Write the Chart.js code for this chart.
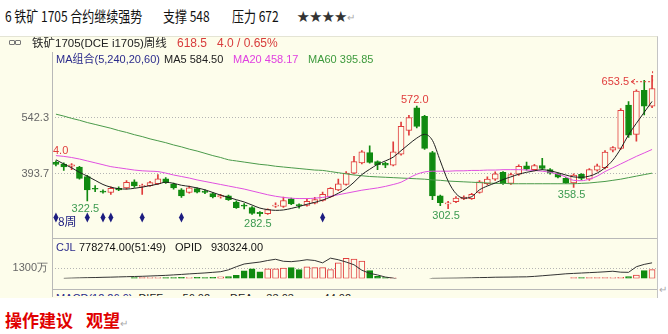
<!DOCTYPE html>
<html>
<head>
<meta charset="utf-8">
<script src="https://cdn.jsdelivr.net/npm/chart.js@4.4.0/dist/chart.umd.min.js"></script>
<style>
body{margin:0;width:668px;height:334px;position:relative;background:#fff;overflow:hidden;font-family:"Liberation Sans","Noto Sans CJK SC",sans-serif}
.abs{position:absolute;white-space:nowrap}
.t1{font-family:"Noto Sans CJK SC";font-size:15px;line-height:20px;top:6px;color:#111;transform:scaleX(0.8);transform-origin:0 0}
.r1{top:36px;line-height:14px;font-size:11.5px}
.r2{top:52px;line-height:14px;font-size:11px}
.rv{top:240px;line-height:14px;font-size:11px;color:#111}
.ret{color:#aaa;font-size:10px}
</style>
</head>
<body>
<!--标题-->
<div class="abs t1" style="left:5px">6 铁矿 1705 合约继续强势</div>
<div class="abs t1" style="left:163px">支撑 548</div>
<div class="abs t1" style="left:232px">压力 672</div>
<div class="abs" style="left:297px;top:7px;font-family:'Noto Sans CJK SC';font-size:12.5px;line-height:18px;color:#333">★★★★<span class="ret">↵</span></div>

<!--图表面板-->
<div class="abs" style="left:0;top:36px;width:657px;height:261px;background:#fdfdeb;border-top:1px solid #e4e4d4;border-right:1px solid #c4c4c4"></div>
<div class="abs" style="left:52px;top:52px;width:1px;height:245px;background:#b8b8b8"></div>
<div class="abs" style="left:52px;top:238px;width:605px;height:1px;background:#b8b8b8"></div>
<div class="abs" style="left:52px;top:289px;width:605px;height:1px;background:#b8b8b8"></div>

<div class="abs" style="left:0;top:52px;width:656px;height:186px"><canvas id="kChart" width="656" height="186"></canvas></div>
<div class="abs" style="left:0;top:239px;width:656px;height:50px"><canvas id="volChart" width="656" height="50"></canvas></div>

<!--面板文字-->
<div class="abs r1" style="left:9px;top:40px;width:4px;height:3px;border:1px solid #777;border-radius:1px"></div>
<div class="abs r1" style="left:15px;top:40px;width:4px;height:3px;border:1px solid #777;border-radius:1px"></div>
<div class="abs r1" style="left:32px;color:#222">铁矿1705(DCE i1705)周线</div>
<div class="abs r1" style="left:177px;color:#d83c3c;font-size:12px">618.5</div>
<div class="abs r1" style="left:217px;color:#d83c3c;font-size:12px">4.0 / 0.65%</div>
<div class="abs r2" style="left:56px;color:#2b2b8c">MA组合(5,240,20,60)</div>
<div class="abs r2" style="left:164px;color:#222">MA5 584.50</div>
<div class="abs r2" style="left:233px;color:#e040e0">MA20 458.17</div>
<div class="abs r2" style="left:308px;color:#3d9a3d">MA60 395.85</div>
<div class="abs rv" style="left:56px;color:#2b2b8c">CJL</div>
<div class="abs rv" style="left:79px">778274.00(51:49)</div>
<div class="abs rv" style="left:175px">OPID</div>
<div class="abs rv" style="left:211px">930324.00</div>
<div class="abs" style="left:0;top:291px;width:657px;height:5px;overflow:hidden">
  <div class="abs" style="left:56px;top:0;font-size:11px;line-height:14px;color:#2b2b8c">MACD(12,26,9)<span style="color:#222;margin-left:6px">DIFF</span><span style="color:#222;margin-left:16px">-56.02</span><span style="color:#222;margin-left:20px">DEA</span><span style="color:#222;margin-left:10px">-33.03</span><span style="color:#222;margin-left:26px">-44.02</span></div>
</div>
<div class="abs ret" style="left:659px;top:284px">↵</div>

<!--操作建议-->
<div class="abs" style="left:5px;top:309px;font-family:'Noto Sans CJK SC';font-weight:bold;font-size:17px;line-height:22px;color:#e00000">操作建议</div>
<div class="abs" style="left:86px;top:309px;font-family:'Noto Sans CJK SC';font-weight:bold;font-size:17px;line-height:22px;color:#e00000">观望<span class="ret" style="font-weight:normal">↵</span></div>

<script>
//---------- 数据（周线，从图上读取）----------
var openPrices = [424,420,414,412,387,356,349,345,356,357,
    373,361,363,368,381,367,352,345,355,349,
    342,333,336,320,312,305,293,289,309,308,
    328,313,311,317,324,334,352,366,396,423,
    450,426,422,417,446,508,568,545,450,336,
    315,321,328,329,345,368,380,398,369,393,
    415,405,416,405,394,382,370,393,380,404,
    410,456,461,575,498,614,572];
var highPrices = [428,423,421,414,390,363,352,360,360,376,
    378,367,374,392,384,370,355,362,357,352,
    345,340,338,323,316,308,295,302,318,333,
    330,315,328,332,346,358,380,400,440,455,
    468,428,424,478,530,548,572,548,453,338,
    322,334,336,343,376,386,399,400,396,418,
    425,419,435,408,396,384,394,395,408,420,
    455,466,566,584,615,640,653.5];
var lowPrices = [415,403,405,380,322.5,347,343,340,350,354,
    358,340,361,366,369,354,332,343,344,342,
    331,330,324,303,302,287,282.5,287,306,306,
    313,304,309,315,322,332,350,364,394,420,
    422,405,410,415,443,496,515,458,326,310,
    302.5,318,326,327,343,365,377,366,366,390,
    404,402,405,393,383,369,358.5,378,377,401,
    407,452,458,490,480,549,568];
var closePrices = [419,412,418,382,352,354,346,356,352,372,
    362,364,371,381,371,357,336,357,346,345,
    333,337,326,305,309,290,289,300,312,324,
    315,310,322,326,340,356,368,396,426,452,
    424,418,417,452,519,542,519,461,336,318,
    318,330,333,340,373,380,394,368,392,414,
    406,416,408,396,385,371,391,382,405,415,
    451,463,561,496,612,572,618.5];

var ma5 = [431,420,410,398,388,377,366,359,355,354,
    356,359,363,367,372,369,364,361,357,352,
    345,338,332,326,320,312,304,300,298,299,
    303,308,314,319,325,333,343,355,372,392,
    406,419,428,438,455,472,488,498,482,428,
    375,342,330,334,352,362,370,379,386,393,
    398,402,405,402,397,391,386,385,388,396,
    410,430,460,497,527,556,584.5];
var ma20 = [442,440,437,433,428,423,418,413,410,407,
    404,402,401,400,396,391,387,383,378,374,
    370,366,362,358,354,349,344,339,335,332,
    330,329,329,330,332,335,339,343,347,351,
    354,357,361,366,372,383,393,399,401,401,
    401,402,402,403,403,404,404,405,405,405,
    404,403,401,398,393,386,377,376,380,388,
    400,410,420,430,440,449,458.17];
var ma60 = [551,546,540,535,529,524,519,514,508,503,
    497,492,486,481,476,470,465,459,454,448,
    442,437,431,428,425,422,419,417,414,412,
    410,408,406,404,403,400,397,394,391,389,
    387,386,385,384,383,382,381,380,378,377,
    375,374,373,372,371,370,369,369,368,368,
    368,368,368,368,368,368,368,369,370,372,
    374,377,380,384,388,392,395.85];

// 成交量和持仓（万），看不到的部分为 null 或在面板下方
var volume = [null,null,null,null,null,null,null,null,null,null,
    110,110,120,120,110,120,130,120,130,120,
    140,200,220,380,980,1230,860,1230,1230,1330,
    1375,1130,1480,1375,1375,1130,2000,2590,2480,2240,
    1005,265,120,70,null,null,null,null,null,null,
    null,null,null,null,null,null,null,null,null,null,
    null,null,null,null,null,null,110,110,110,110,
    110,120,130,220,440,1005,1130];
var opid = [null,0,30,60,90,110,140,160,190,220,
    245,270,310,350,390,450,510,580,640,700,
    780,860,1100,1500,1850,1980,2100,2300,2460,2200,
    2150,2250,2400,2300,2000,2600,2400,2100,1750,1050,
    650,440,170,30,-300,-500,-500,-300,0,10,
    20,30,50,70,100,120,150,160,170,190,
    200,260,340,420,500,590,640,690,740,790,
    850,920,800,780,1500,1800,2000];

var priceTicks = [393.7, 542.3];
var volTicks = [1300];
var signalWeeks = [0, 4, 6, 7, 11, 16, 34];
var weeks = closePrices.map(function (v, i) { return 'W' + (i + 1); });

var RED = '#e03c3c';
var GREEN = '#108a10';
var CREAM = '#fdfdeb';

function isUp(i) { return closePrices[i] >= openPrices[i]; }
var lineColors = weeks.map(function (w, i) { return isUp(i) ? RED : GREEN; });
var fillColors = weeks.map(function (w, i) { return isUp(i) ? CREAM : GREEN; });

//---------- 标注（高低点、信号）----------
var markPlugin = {
    id: 'marks',
    afterDatasetsDraw: function (chart) {
        var ctx = chart.ctx, xs = chart.scales.x, ys = chart.scales.y, area = chart.chartArea;
        ctx.save();
        ctx.font = '11px "Liberation Sans"';
        ctx.textAlign = 'center';
        // 低点
        [[4, 322.5], [26, 282.5], [50, 302.5], [66, 358.5]].forEach(function (m) {
            ctx.fillStyle = '#3c9a50';
            ctx.textBaseline = 'top';
            ctx.fillText(m[1].toFixed(1), xs.getPixelForValue(m[0]) - 2, ys.getPixelForValue(m[1]) + 2);
        });
        // 高点
        ctx.fillStyle = RED;
        ctx.textBaseline = 'bottom';
        ctx.fillText('572.0', xs.getPixelForValue(46) - 2, ys.getPixelForValue(572) - 1);
        // 最高点 653.5
        var hx = xs.getPixelForValue(76), hy = ys.getPixelForValue(653.5);
        ctx.textAlign = 'right';
        ctx.textBaseline = 'middle';
        ctx.fillText('653.5', hx - 23, hy + 7);
        ctx.strokeStyle = RED;
        ctx.lineWidth = 1;
        ctx.setLineDash([2, 2]);
        ctx.beginPath();
        ctx.moveTo(hx - 20, hy + 6.5);
        ctx.lineTo(hx + 0.5, hy + 6.5);
        ctx.moveTo(hx + 0.5, hy - 4);
        ctx.lineTo(hx + 0.5, hy + 6.5);
        ctx.stroke();
        ctx.setLineDash([]);
        ctx.beginPath();
        ctx.moveTo(hx - 17, hy + 4);
        ctx.lineTo(hx - 21, hy + 6.5);
        ctx.lineTo(hx - 17, hy + 9);
        ctx.stroke();
        // 左上 4.0
        ctx.textAlign = 'left';
        ctx.textBaseline = 'bottom';
        ctx.fillText('4.0', area.left + 1, ys.getPixelForValue(ma5[0]) - 3);
        // 信号菱形
        ctx.fillStyle = '#1c1c80';
        signalWeeks.forEach(function (i) {
            var x = xs.getPixelForValue(i), y = area.bottom - 11;
            ctx.beginPath();
            ctx.moveTo(x, y - 5);
            ctx.lineTo(x + 2.5, y);
            ctx.lineTo(x, y + 5);
            ctx.lineTo(x - 2.5, y);
            ctx.closePath();
            ctx.fill();
        });
        ctx.font = '12px "Noto Sans CJK SC"';
        ctx.textBaseline = 'middle';
        ctx.fillText('8周', xs.getPixelForValue(0) + 2, area.bottom - 7);
        ctx.restore();
    }
};

function fixedTicks(values) {
    return function (scale) {
        scale.ticks = values.map(function (v) { return { value: v }; });
    };
}

function lineSet(data, color) {
    return {
        type: 'line', data: data, borderColor: color, borderWidth: 1,
        pointRadius: 0, cubicInterpolationMode: 'monotone', order: 0
    };
}

//---------- K线图 ----------
function BuildKChart() {
    var ctx = document.getElementById('kChart').getContext('2d');
    return new Chart(ctx, {
        type: 'bar',
        data: {
            labels: weeks,
            datasets: [
                lineSet(ma5, '#202020'),
                lineSet(ma20, '#e050e0'),
                lineSet(ma60, '#4a9a4a'),
                {   // 实体
                    data: openPrices.map(function (o, i) { return [o, closePrices[i]]; }),
                    backgroundColor: fillColors, borderColor: lineColors,
                    borderWidth: 1, borderSkipped: false,
                    barThickness: 6, grouped: false, order: 1
                },
                {   // 影线
                    data: lowPrices.map(function (l, i) { return [l, highPrices[i]]; }),
                    backgroundColor: lineColors, borderWidth: 0,
                    barThickness: 1, grouped: false, order: 2
                }
            ]
        },
        options: {
            responsive: false, animation: false, devicePixelRatio: 1,
            layout: { padding: 0 },
            plugins: { legend: { display: false }, tooltip: { enabled: false } },
            scales: {
                x: { display: false, offset: true },
                y: {
                    min: 250.5, max: 689.3,
                    afterBuildTicks: fixedTicks(priceTicks),
                    afterFit: function (scale) { scale.width = 52; },
                    ticks: {
                        color: '#666', padding: 3,
                        font: { size: 11, family: 'Liberation Sans' },
                        callback: function (v) { return Number(v).toFixed(1); }
                    },
                    grid: { color: '#b4b4b4', drawTicks: false },
                    border: { display: false, dash: [1, 2] }
                }
            }
        },
        plugins: [markPlugin]
    });
}

//---------- 成交量 ----------
function BuildVolChart() {
    var ctx = document.getElementById('volChart').getContext('2d');
    return new Chart(ctx, {
        type: 'bar',
        data: {
            labels: weeks,
            datasets: [
                {
                    type: 'line', data: opid, borderColor: '#333', borderWidth: 1,
                    pointRadius: 0, order: 0, spanGaps: false
                },
                {
                    data: volume, backgroundColor: fillColors, borderColor: lineColors,
                    borderWidth: 1, borderSkipped: false, barThickness: 6, order: 1
                }
            ]
        },
        options: {
            responsive: false, animation: false, devicePixelRatio: 1,
            layout: { padding: 0 },
            plugins: { legend: { display: false }, tooltip: { enabled: false } },
            scales: {
                x: { display: false, offset: true },
                y: {
                    min: 0, max: 3700,
                    afterBuildTicks: fixedTicks(volTicks),
                    afterFit: function (scale) { scale.width = 52; },
                    ticks: {
                        color: '#666', padding: 4,
                        font: { size: 11, family: 'Liberation Sans' },
                        callback: function (v) { return v + '万'; }
                    },
                    grid: { color: '#b4b4b4', drawTicks: false },
                    border: { display: false, dash: [1, 2] }
                }
            }
        }
    });
}

BuildKChart();
BuildVolChart();
</script>
</body>
</html>
